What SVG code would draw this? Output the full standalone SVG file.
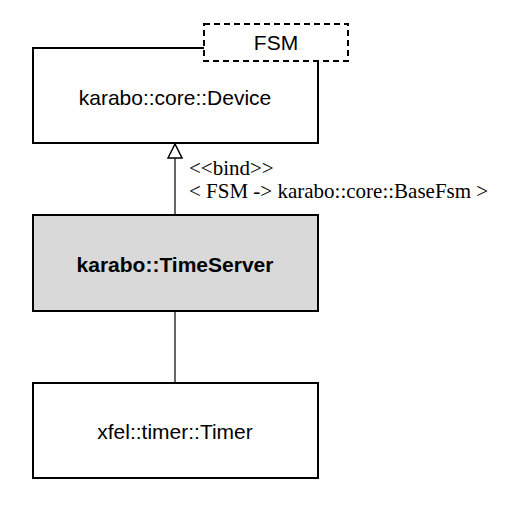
<svg xmlns="http://www.w3.org/2000/svg" width="513" height="509" viewBox="0 0 513 509">
<style>
.box{stroke:#000;stroke-width:2;fill:#fff}
.lbl{font-family:"Liberation Sans",Arial,sans-serif;font-size:21px;text-anchor:middle;fill:#000}
.edge{font-family:"Liberation Serif","Times New Roman",serif;font-size:21px;fill:#000}
</style>
<defs>
<marker id="tri" viewBox="0 0 16 16" refX="15" refY="8" markerWidth="16" markerHeight="16" markerUnits="userSpaceOnUse" orient="auto">
<path d="M1,1 L15,8 L1,15 Z" fill="#fff" stroke="#000" stroke-width="1.5"/>
</marker>
</defs>
<g id="connectors">
<line x1="175" y1="215" x2="175" y2="144" stroke="#000" stroke-width="1.2" marker-end="url(#tri)"/>
<line x1="175" y1="311" x2="175" y2="383" stroke="#000" stroke-width="1.2"/>
<text class="edge" x="189" y="175">&lt;&lt;bind&gt;&gt;</text>
<text class="edge" x="189" y="198">&lt; FSM -&gt; karabo::core::BaseFsm &gt;</text>
</g>
<g id="device">
<rect class="box" x="33" y="48" width="285" height="95"/>
<rect x="204" y="24" width="144" height="37" fill="#fff" stroke="#000" stroke-width="2" stroke-dasharray="6,4"/>
<text class="lbl" x="276" y="50">FSM</text>
<text class="lbl" x="175" y="105">karabo::core::Device</text>
</g>
<g id="timeserver">
<rect class="box" x="33" y="215" width="285" height="96" style="fill:#d9d9d9"/>
<text class="lbl" x="175" y="272" font-weight="bold">karabo::TimeServer</text>
</g>
<g id="timer">
<rect class="box" x="33" y="383" width="285" height="95"/>
<text class="lbl" x="175" y="439">xfel::timer::Timer</text>
</g>
</svg>
